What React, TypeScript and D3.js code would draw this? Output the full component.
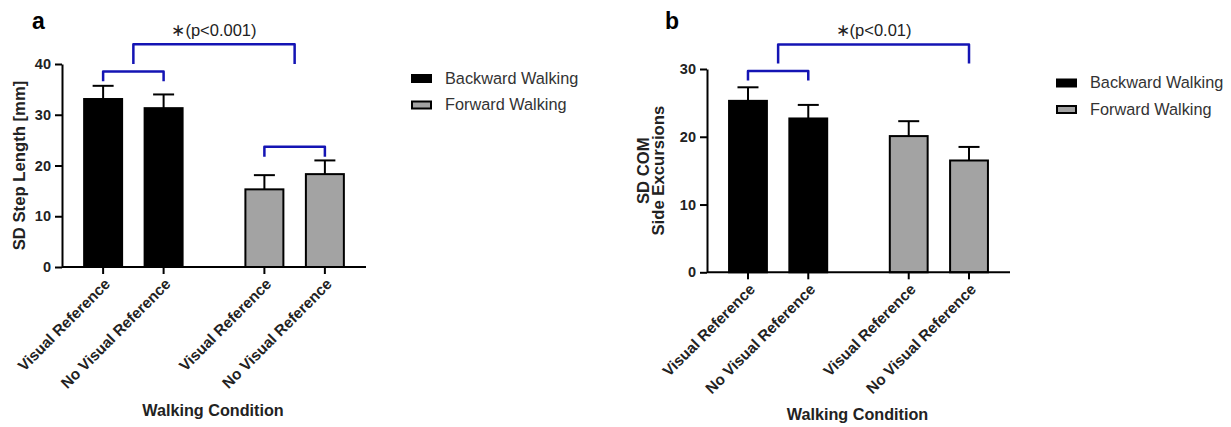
import React, { useEffect, useRef } from 'react';
import * as d3 from 'd3';

// categories
const groups = ['Backward Walking', 'Forward Walking'];
const conditions = ['Visual Reference', 'No Visual Reference'];
const groupFills = ['#000000', '#a3a3a3'];

// panel a: SD step length [mm]
const stepMeans = [[33.1, 31.3], [15.3, 18.3]];
const stepErrors = [[2.6, 2.7], [2.8, 2.7]];
const stepTicks = [0, 10, 20, 30, 40];

// panel b: SD COM side excursions
const comMeans = [[25.3, 22.7], [20.1, 16.5]];
const comErrors = [[2.0, 2.0], [2.2, 2.0]];
const comTicks = [0, 10, 20, 30];

// significance brackets: ends are [group, condition] (condition null = group centre)
const stepBrackets = [
    { from: [0, 0], to: [0, 1], level: 38.5, leg: 36.6 },
    { from: [0, null], to: [1, null], level: 43.9, leg: 40 },
    { from: [1, 0], to: [1, 1], level: 23.7, leg: 21.7 },
];
const comBrackets = [
    { from: [0, 0], to: [0, 1], level: 29.7, leg: 28.3 },
    { from: [0, null], to: [1, 1], level: 33.6, leg: 30.8 },
];

const FONT = '"Liberation Sans", Arial, sans-serif';

const panels = [
    {
        letter: 'a', means: stepMeans, errors: stepErrors, ticks: stepTicks, brackets: stepBrackets,
        left: 62, right: 366, top: 64, bottom: 267, yMax: 40,
        title: ['SD Step Length [mm]'], star: '∗(p<0.001)',
        legendX: 411, legendY: 74, xTitleY: 416, letterX: 32,
    },
    {
        letter: 'b', means: comMeans, errors: comErrors, ticks: comTicks, brackets: comBrackets,
        left: 707, right: 1010, top: 69, bottom: 272.3, yMax: 30,
        title: ['SD COM', 'Side Excursions'], star: '∗(p<0.01)',
        legendX: 1056, legendY: 78.5, xTitleY: 420, letterX: 665,
    },
];

const App = () => {
    const svgRef = useRef();

    useEffect(() => {
        const svg = d3.select(svgRef.current);
        svg.selectAll('*').remove();

        panels.forEach(p => {
            const g = svg.append('g');

            const x0 = d3.scaleBand().domain(groups).range([p.left, p.right])
                .paddingInner(0.2).paddingOuter(0.0425);
            const x1 = d3.scaleBand().domain(conditions).range([0, x0.bandwidth()])
                .paddingInner(0.339).paddingOuter(0.236);
            const y = d3.scaleLinear().domain([0, p.yMax]).range([p.bottom, p.top]);

            const barX = (gi, ci) => x0(groups[gi]) + x1(conditions[ci]);
            const centre = ([gi, ci]) => ci === null
                ? x0(groups[gi]) + x0.bandwidth() / 2
                : barX(gi, ci) + x1.bandwidth() / 2;

            const rows = [];
            p.means.forEach((vals, gi) => vals.forEach((v, ci) => rows.push({ gi, ci, v, e: p.errors[gi][ci] })));

            // error bars (drawn first, bar covers the base)
            rows.forEach(d => {
                const cx = barX(d.gi, d.ci) + x1.bandwidth() / 2;
                g.append('line').attr('x1', cx).attr('x2', cx)
                    .attr('y1', y(d.v)).attr('y2', y(d.v + d.e))
                    .attr('stroke', '#000').attr('stroke-width', 2);
                g.append('line').attr('x1', cx - 10.5).attr('x2', cx + 10.5)
                    .attr('y1', y(d.v + d.e)).attr('y2', y(d.v + d.e))
                    .attr('stroke', '#000').attr('stroke-width', 2);
            });

            // bars
            g.selectAll('rect.bar').data(rows).join('rect')
                .attr('class', 'bar')
                .attr('x', d => barX(d.gi, d.ci) + 1)
                .attr('width', x1.bandwidth() - 2)
                .attr('y', d => y(d.v))
                .attr('height', d => y(0) - y(d.v))
                .attr('fill', d => groupFills[d.gi])
                .attr('stroke', '#000').attr('stroke-width', 2);

            // y axis
            const yAxis = g.append('g')
                .attr('transform', `translate(${p.left},0)`)
                .call(d3.axisLeft(y).tickValues(p.ticks).tickSize(7).tickSizeOuter(0).tickPadding(4));
            yAxis.select('.domain').attr('stroke-width', 2);
            yAxis.selectAll('.tick line').attr('stroke-width', 2);
            yAxis.selectAll('.tick text')
                .attr('font-family', FONT).attr('font-size', 14.5).attr('font-weight', 'bold').attr('fill', '#222');

            // x axis
            const tickPos = rows.map(d => barX(d.gi, d.ci) + x1.bandwidth() / 2);
            g.append('line').attr('x1', p.left).attr('x2', p.right)
                .attr('y1', y(0)).attr('y2', y(0))
                .attr('stroke', '#000').attr('stroke-width', 2);
            rows.forEach((d, i) => {
                g.append('line').attr('x1', tickPos[i]).attr('x2', tickPos[i])
                    .attr('y1', y(0)).attr('y2', y(0) + 7)
                    .attr('stroke', '#000').attr('stroke-width', 2);
                g.append('text')
                    .attr('transform', `translate(${tickPos[i] + 8},${y(0) + 18}) rotate(-45)`)
                    .attr('text-anchor', 'end')
                    .attr('font-family', FONT).attr('font-size', 15.3).attr('font-weight', 'bold').attr('fill', '#222')
                    .text(conditions[d.ci]);
            });

            // axis titles
            g.append('text')
                .attr('x', (p.left + p.right) / 2 - 1).attr('y', p.xTitleY)
                .attr('text-anchor', 'middle')
                .attr('font-family', FONT).attr('font-size', 16.2).attr('font-weight', 'bold').attr('fill', '#222')
                .text('Walking Condition');
            const midY = (p.top + p.bottom) / 2;
            p.title.forEach((t, i) => {
                const bx = p.title.length === 1 ? 25 : p.left - 58 + i * 15;
                g.append('text')
                    .attr('transform', `translate(${bx},${midY}) rotate(-90)`)
                    .attr('text-anchor', 'middle')
                    .attr('font-family', FONT).attr('font-size', 16.7).attr('font-weight', 'bold').attr('fill', '#222')
                    .text(t);
            });

            // panel letter
            g.append('text').attr('x', p.letterX).attr('y', 29)
                .attr('font-family', FONT).attr('font-size', 23).attr('font-weight', 'bold')
                .text(p.letter);

            // brackets
            p.brackets.forEach(b => {
                const xa = centre(b.from), xb = centre(b.to);
                const path = d3.path();
                path.moveTo(xa, y(b.leg));
                path.lineTo(xa, y(b.level));
                path.lineTo(xb, y(b.level));
                path.lineTo(xb, y(b.leg));
                g.append('path').attr('d', path.toString())
                    .attr('fill', 'none').attr('stroke', '#1414b4').attr('stroke-width', 2.5)
                    .attr('stroke-linejoin', 'round');
            });
            const big = p.brackets[1];
            g.append('text')
                .attr('x', (centre(big.from) + centre(big.to)) / 2).attr('y', 36)
                .attr('text-anchor', 'middle')
                .attr('font-family', FONT).attr('font-size', 16.5).attr('fill', '#222')
                .text(p.star);

            // legend
            groups.forEach((name, i) => {
                const ly = p.legendY + i * 26.5;
                g.append('rect')
                    .attr('x', p.legendX + 1).attr('y', ly + 1)
                    .attr('width', 19).attr('height', 7)
                    .attr('fill', groupFills[i]).attr('stroke', '#000').attr('stroke-width', 2);
                g.append('text')
                    .attr('x', p.legendX + 34).attr('y', ly + 9.5)
                    .attr('font-family', FONT).attr('font-size', 16.3).attr('fill', '#333')
                    .text(name);
            });
        });
    }, []);

    return (
        <svg ref={svgRef} width={1231} height={427}
            style={{ position: 'absolute', left: 0, top: 0, background: '#fff' }}></svg>
    );
};

export default App;
